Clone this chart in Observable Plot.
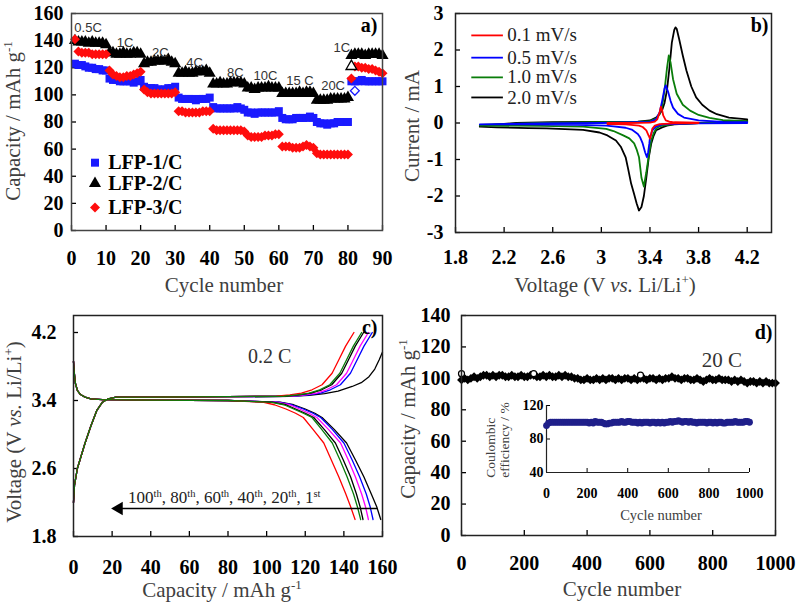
<!DOCTYPE html>
<html><head><meta charset="utf-8">
<script src="https://cdn.jsdelivr.net/npm/d3@7"></script>
<script src="https://cdn.jsdelivr.net/npm/@observablehq/plot@0.6"></script>
<style>
body{margin:0;background:#fff;}
#fig{position:relative;width:798px;height:609px;background:#fff;overflow:hidden;font-family:'Liberation Serif','Times New Roman',serif;}
.lab{position:absolute;font-size:21px;color:#404040;white-space:nowrap;line-height:1;transform:translate(-50%,-50%);}
.rot{transform:translate(-50%,-50%) rotate(-90deg);}
.lab sup{font-size:0.62em;vertical-align:0.55em;line-height:0;}
</style></head>
<body><div id="fig"></div>
<script>
// ---------- Panel a: rate capability ----------
const seriesA = ["LFP-1/C", "LFP-2/C", "LFP-3/C"];
const cyclesA = d3.range(1, 91);
const capLFP1 = [123,122,122,121,120,120,119,119,118,118, 112,111,111,110,110,110,110,109,110,111,
  106,105,105,105,104,104,104,105,105,106, 98,97,97,97,97,96,97,97,97,98,
  91,90,90,90,90,90,90,91,90,89, 87,87,86,87,87,87,87,87,87,88,
  83,82,82,82,83,83,83,83,84,83, 80,79,79,78,79,79,80,80,80,80,
  110,110,110,111,110,110,110,110,110,110];
const capLFP2 = [140,139,139,139,138,139,138,138,138,137, 131,131,130,130,131,130,130,131,131,130,
  123,124,124,125,125,125,125,126,124,123, 116,116,117,116,116,117,117,117,118,116,
  108,108,109,108,108,109,109,109,109,108, 105,105,104,105,105,105,106,105,105,105,
  101,101,101,101,101,102,101,102,102,101, 96,96,96,96,97,97,97,97,97,98,
  129,130,130,130,129,130,130,130,130,129];
const capLFP3 = [141,132,131,131,131,130,130,130,130,130, 118,115,114,113,113,114,114,115,116,117,
  104,102,101,101,101,101,101,101,101,102, 88,88,87,87,87,87,87,88,88,88,
  75,74,74,74,74,74,74,74,74,73, 70,69,69,69,69,70,70,70,71,71,
  62,62,62,61,61,61,62,63,62,61, 57,56,56,56,56,56,56,56,56,56,
  112,121,121,120,120,119,119,118,117,116];
const hollowSeries = ["LFP-2/C", "LFP-1/C"];
const hollowCycle = [81, 82];
const hollowCap = [121, 103];
const rateLabels = ["0.5C","1C","2C","4C","8C","10C","15 C","20C","1C"];
const rateLabelCycle = [4.8,15.5,25.7,35.6,47.4,56.1,66.1,75.7,78.2];
const rateLabelCap = [149.7,138.6,131.3,123.9,116.5,114.3,110.6,106.9,135];
const aXTicks = [0,10,20,30,40,50,60,70,80,90];
const aYTicks = [0,20,40,60,80,100,120,140,160];

// ---------- Panel b: cyclic voltammetry ----------
const scanRates = ["0.1 mV/s","0.5 mV/s","1.0 mV/s","2.0 mV/s"];
const cv01AnoV = [3.05,3.2,3.40,3.44,3.46,3.48,3.49,3.50,3.51,3.53,3.56,3.6,3.8];
const cv01AnoI = [0.0,0.0,0.01,0.04,0.1,0.3,0.45,0.35,0.2,0.07,0.04,0.02,0.01];
const cv01CatV = [3.8,3.6,3.48,3.44,3.42,3.41,3.40,3.39,3.37,3.34,3.31,3.2,3.05];
const cv01CatI = [0.0,-0.01,-0.03,-0.07,-0.15,-0.3,-0.43,-0.35,-0.2,-0.11,-0.07,-0.04,-0.03];
const cv05AnoV = [2.0,2.5,3.0,3.3,3.40,3.45,3.48,3.50,3.52,3.53,3.55,3.57,3.59,3.63,3.68,3.8,4.0,4.2];
const cv05AnoI = [-0.04,-0.01,0.0,0.02,0.03,0.1,0.3,0.6,0.95,1.03,0.85,0.6,0.42,0.25,0.15,0.07,0.03,0.02];
const cv05CatV = [4.2,3.8,3.5,3.45,3.42,3.40,3.395,3.385,3.375,3.36,3.34,3.32,3.30,3.25,3.2,3.1,3.04,2.8,2.4,2.0];
const cv05CatI = [0.0,-0.01,-0.04,-0.1,-0.2,-0.4,-0.56,-0.8,-0.94,-0.8,-0.56,-0.4,-0.3,-0.18,-0.13,-0.09,-0.07,-0.05,-0.04,-0.04];
const cv10AnoV = [2.0,2.5,3.0,3.3,3.40,3.45,3.48,3.50,3.52,3.54,3.555,3.57,3.59,3.62,3.67,3.73,3.80,3.89,4.0,4.2];
const cv10AnoI = [-0.05,0.0,0.02,0.03,0.05,0.12,0.25,0.45,0.9,1.5,1.85,1.65,1.2,0.8,0.5,0.34,0.22,0.14,0.08,0.05];
const cv10CatV = [4.2,3.9,3.6,3.50,3.47,3.45,3.43,3.41,3.39,3.37,3.35,3.33,3.31,3.29,3.27,3.23,3.18,3.1,3.04,2.85,2.5,2.0];
const cv10CatI = [0.03,0.01,-0.03,-0.07,-0.11,-0.16,-0.28,-0.48,-0.9,-1.35,-1.74,-1.5,-0.94,-0.72,-0.56,-0.42,-0.34,-0.22,-0.16,-0.1,-0.08,-0.07];
const cv20AnoV = [2.0,2.1,2.3,2.6,3.0,3.3,3.40,3.45,3.48,3.50,3.52,3.54,3.56,3.58,3.60,3.61,3.62,3.64,3.67,3.70,3.74,3.78,3.83,3.89,3.95,4.05,4.2];
const cv20AnoI = [-0.08,-0.05,0.0,0.02,0.03,0.04,0.07,0.15,0.25,0.35,0.55,0.9,1.5,2.2,2.55,2.62,2.58,2.3,1.85,1.44,1.0,0.70,0.50,0.34,0.24,0.15,0.10];
const cv20CatV = [4.2,4.0,3.8,3.6,3.54,3.50,3.47,3.45,3.43,3.41,3.39,3.37,3.35,3.33,3.31,3.29,3.27,3.245,3.22,3.2,3.16,3.12,3.05,2.985,2.85,2.7,2.55,2.4,2.14,2.0];
const cv20CatI = [0.05,0.03,0.0,-0.04,-0.07,-0.12,-0.17,-0.2,-0.35,-0.57,-0.95,-1.5,-2.0,-2.3,-2.4,-2.2,-1.95,-1.66,-1.25,-0.94,-0.65,-0.48,-0.34,-0.26,-0.19,-0.17,-0.15,-0.14,-0.12,-0.1];
const bXTicks = [1.8,2.2,2.6,3,3.4,3.8,4.2];
const bYTicks = [-3,-2,-1,0,1,2,3];

// ---------- Panel c: charge/discharge profiles ----------
const cycleNames = ["1st","20th","40th","60th","80th","100th"];
const chargeHeadCap = [0,0.5,2,4,6,9,12,15,18,22,40,80];
const chargeHeadV = [2.2,2.4,2.6,2.75,2.9,3.1,3.28,3.38,3.42,3.44,3.44,3.445];
const chargeTailV = [3.45,3.465,3.487,3.526,3.585,3.72,3.88,4.04,4.2];
const chargeTailCap20 = [113,122,128,133,138.2,143.4,146.9,150.4,154.7];
const chargeTailCap40 = [112,120,126,131,136.2,141.4,144.9,148.4,152.7];
const chargeTailCap60 = [110,117,123,128.5,133.7,138.9,142.4,145.9,150.2];
const chargeTailCap80 = [109,116,122,127.5,132.7,137.9,141.4,144.9,149.2];
const chargeTailCap100 = [105,112,118,123.5,128.7,133.9,137.4,140.9,145.2];
const chargeTail1V = [3.45,3.46,3.48,3.51,3.565,3.61,3.68,3.77,3.88,3.97];
const chargeTailCap1 = [112,122,130,137,144.3,149,153,156,158.3,160];
const dischargeHeadCap = [0,0.3,1,2,3.6,6,9,15,40,80];
const dischargeHeadV = [3.86,3.75,3.6,3.52,3.47,3.44,3.42,3.41,3.405,3.40];
const dischargeTailV = [3.38,3.35,3.3,3.25,3.2,3.06,2.9,2.7,2.5,2.3,2.15,2.0];
const dischargeTailCap1 = [107,114,120,125,128.7,135,141.4,146,150.4,154.2,157,159.1];
const dischargeTailCap20 = [106,113,119,124,128,134,140,144.3,148.2,151.6,153.6,155.1];
const dischargeTailCap40 = [105,112,117,122,126,132,138.3,142.3,146,149.2,151.2,152.7];
const dischargeTailCap60 = [103,110,115,120,124.4,129.8,135.6,139.7,143.5,146.5,148.4,149.9];
const dischargeTailCap80 = [102,109,114,119,123.5,128.5,134,138,141.7,145,147,148.7];
const dischargeTailCap100 = [98,104,110,115,119,124,129.6,133.5,137.4,141,143.5,145.8];
const cXTicks = [0,20,40,60,80,100,120,140,160];
const cYTicks = [1.8,2.6,3.4,4.2];

// ---------- Panel d: long cycling at 20 C ----------
const capD = [99,100,99,100,101,100,101,102,102,101, 102,101,102,102,101,101,102,101,101,102,
  101,101,102,102,101,101,102,101,102,101, 101,102,101,102,101,101,100,100,99,99,
  100,99,99,100,99,100,99,100,100,99, 100,99,100,100,99,100,99,100,100,99,
  100,100,99,100,99,100,100,101,100,100, 99,100,100,99,99,100,99,98,99,100,
  99,99,100,99,99,99,98,99,98,99, 98,97,98,98,97,98,97,98,97,97, 97];
const hollowDCycle = [0,230,570];
const hollowDCap = [103,103,102];
const ceD = [96,99,100,100,100,100,100,100,100,100, 100,100,100,100,100,100,100,100,100,100,
  100,99,100,99,101,100,100,100,99,98, 98,99,99,100,100,100,100,101,100,100,
  101,101,100,100,100,99,100,99,100,100, 100,99,100,100,99,100,99,100,99,100,
  100,101,100,101,101,102,101,100,101,101, 100,101,100,100,99,100,100,100,100,99,
  100,100,99,100,99,100,100,99,99,100, 100,100,100,101,100,100,100,100,101,101, 100];
const dXTicks = [0,200,400,600,800,1000];
const dYTicks = [0,20,40,60,80,100,120,140];
const insetYTicks = [40,80,120];

// ================== drawing ==================
const fig = document.getElementById("fig");
const serif = "'Liberation Serif','Times New Roman',serif";
const sans = "'Liberation Sans',Arial,sans-serif";
function place(el, left, top) {
  el.style.position = "absolute"; el.style.left = left + "px"; el.style.top = top + "px";
  fig.appendChild(el);
}
function label(html, cx, cy, rot, size) {
  const d = document.createElement("div");
  d.className = "lab" + (rot ? " rot" : "");
  d.innerHTML = html;
  d.style.left = cx + "px"; d.style.top = cy + "px";
  if (size) d.style.fontSize = size + "px";
  fig.appendChild(d);
}
const fmt = d => String(d);
const baseStyle = {background: "transparent", color: "black", fontFamily: serif, overflow: "visible"};
function axes(xt, yt, xPad, yPad, size = 20, tick = -5) {
  return [
    Plot.axisX(xt, {tickSize: tick, tickPadding: xPad, fontSize: size, fontWeight: "bold", label: null, tickFormat: fmt, strokeWidth: 1.3}),
    Plot.axisY(yt, {tickSize: tick, tickPadding: yPad, fontSize: size, fontWeight: "bold", label: null, tickFormat: fmt, strokeWidth: 1.3})
  ];
}

// Panel a
const colA = {"LFP-1/C": "#1a1aff", "LFP-2/C": "#000000", "LFP-3/C": "#ff0d0d"};
const symA = {"LFP-1/C": "square", "LFP-2/C": "triangle", "LFP-3/C": "diamond2"};
const capA = {"LFP-1/C": capLFP1, "LFP-2/C": capLFP2, "LFP-3/C": capLFP3};
const legendCap = [50, 34.7, 17];
const plotA = Plot.plot({
  width: 399, height: 300, marginLeft: 71, marginRight: 17, marginTop: 13, marginBottom: 70,
  x: {domain: [0, 90]}, y: {domain: [0, 160]}, style: baseStyle,
  marks: [
    ...axes(aXTicks, aYTicks, 25, 13),
    ...seriesA.map(s => Plot.dot(capA[s], {x: (d, i) => cyclesA[i], y: d => d, symbol: symA[s], fill: colA[s], r: 4.5})),
    Plot.dot(hollowCycle, {x: d => d, y: (d, i) => hollowCap[i], symbol: (d, i) => hollowSeries[i] === "LFP-2/C" ? "triangle" : "diamond2", stroke: (d, i) => colA[hollowSeries[i]], fill: "white", r: 4, strokeWidth: 1.3}),
    Plot.text(rateLabels, {x: (d, i) => rateLabelCycle[i], y: (d, i) => rateLabelCap[i], text: d => d, fontFamily: sans, fontSize: 13, fill: "#333"}),
    Plot.dot(seriesA, {x: 6.8, y: (d, i) => legendCap[i], symbol: d => symA[d], fill: d => colA[d], r: 4.5}),
    Plot.text(seriesA, {x: 10.6, y: (d, i) => legendCap[i], text: d => d, textAnchor: "start", fontSize: 20, fontWeight: "bold"}),
    Plot.text(["a)"], {frameAnchor: "top-right", textAnchor: "end", lineAnchor: "top", dx: -5, dy: 4, fontSize: 20, fontWeight: "bold"}),
    Plot.frame({stroke: "#444", strokeWidth: 1.5})
  ]
});
place(plotA, 0, 0);

// Panel b
const colB = {"0.1 mV/s": "#ff0000", "0.5 mV/s": "#0000ff", "1.0 mV/s": "#0a7d0a", "2.0 mV/s": "#000000"};
const cvSets = {
  "0.1 mV/s": [cv01AnoV, cv01AnoI, cv01CatV, cv01CatI],
  "0.5 mV/s": [cv05AnoV, cv05AnoI, cv05CatV, cv05CatI],
  "1.0 mV/s": [cv10AnoV, cv10AnoI, cv10CatV, cv10CatI],
  "2.0 mV/s": [cv20AnoV, cv20AnoI, cv20CatV, cv20CatI]
};
function cvRows(rate) {
  const [av, ai, cv, ci] = cvSets[rate];
  return av.map((v, i) => ({v, i: ai[i]})).concat(cv.map((v, i) => ({v, i: ci[i]})));
}
const legendI = [2.40, 1.79, 1.25, 0.70];
const plotB = Plot.plot({
  width: 399, height: 300, marginLeft: 56, marginRight: 27, marginTop: 13, marginBottom: 68,
  x: {domain: [1.8, 4.4]}, y: {domain: [-3, 3]}, style: baseStyle,
  marks: [
    ...axes(bXTicks, bYTicks, 22, 17),
    ...["2.0 mV/s", "1.0 mV/s", "0.5 mV/s", "0.1 mV/s"].map(r => Plot.line(cvRows(r), {x: "v", y: "i", stroke: colB[r], strokeWidth: 1.8})),
    Plot.link(scanRates, {x1: 1.93, x2: 2.19, y1: (d, i) => legendI[i], y2: (d, i) => legendI[i], stroke: d => colB[d], strokeWidth: 1.8}),
    Plot.text(scanRates, {x: 2.225, y: (d, i) => legendI[i], text: d => d, textAnchor: "start", fontSize: 19, fill: "#222"}),
    Plot.text(["b)"], {frameAnchor: "top-right", textAnchor: "end", lineAnchor: "top", dx: -3, dy: 4, fontSize: 20, fontWeight: "bold"}),
    Plot.frame({stroke: "#222", strokeWidth: 1.5})
  ]
});
place(plotB, 399, 0);

// Panel c
const colC = {"1st": "#000000", "20th": "#0000ff", "40th": "#ff00ff", "60th": "#000000", "80th": "#0a7d0a", "100th": "#ff0000"};
const chargeTails = {"1st": [chargeTailCap1, chargeTail1V], "20th": [chargeTailCap20, chargeTailV], "40th": [chargeTailCap40, chargeTailV],
  "60th": [chargeTailCap60, chargeTailV], "80th": [chargeTailCap80, chargeTailV], "100th": [chargeTailCap100, chargeTailV]};
const dischargeTails = {"1st": dischargeTailCap1, "20th": dischargeTailCap20, "40th": dischargeTailCap40,
  "60th": dischargeTailCap60, "80th": dischargeTailCap80, "100th": dischargeTailCap100};
function chargeRows(c) {
  const [tc, tv] = chargeTails[c];
  return chargeHeadCap.map((q, i) => ({q, v: chargeHeadV[i]})).concat(tc.map((q, i) => ({q, v: tv[i]})));
}
function dischargeRows(c) {
  return dischargeHeadCap.map((q, i) => ({q, v: dischargeHeadV[i]})).concat(dischargeTails[c].map((q, i) => ({q, v: dischargeTailV[i]})));
}
const drawOrderC = ["1st", "20th", "40th", "60th", "100th", "80th"];
const arrowY = 2.13, arrowFrom = 157.4, arrowTo = 23.5;
const plotC = Plot.plot({
  width: 399, height: 309, marginLeft: 73, marginRight: 17, marginTop: 15, marginBottom: 73,
  x: {domain: [0, 160]}, y: {domain: [1.8, 4.4]}, style: baseStyle,
  marks: [
    ...axes(cXTicks, cYTicks, 28, 22),
    ...drawOrderC.flatMap(c => [
      Plot.line(chargeRows(c), {x: "q", y: "v", stroke: colC[c], strokeWidth: 1.3}),
      Plot.line(dischargeRows(c), {x: "q", y: "v", stroke: colC[c], strokeWidth: 1.3})
    ]),
    Plot.link([0], {x1: arrowFrom, x2: arrowTo, y1: arrowY, y2: arrowY, stroke: "black", strokeWidth: 1.4}),
    Plot.dot([0], {x: arrowTo, y: arrowY, symbol: "triangle", rotate: -90, fill: "black", r: 5}),
    Plot.text(["0.2 C"], {x: 101.6, y: 3.92, text: d => d, fontSize: 20, fill: "#333"}),
    Plot.text(["c)"], {frameAnchor: "top-right", textAnchor: "end", lineAnchor: "top", dx: -5, dy: 4, fontSize: 20, fontWeight: "bold"}),
    Plot.frame({stroke: "#222", strokeWidth: 1.5})
  ]
});
place(plotC, 0, 300);

// Panel d
const plotD = Plot.plot({
  width: 399, height: 309, marginLeft: 62, marginRight: 23, marginTop: 15, marginBottom: 74,
  x: {domain: [0, 1000]}, y: {domain: [0, 140]}, style: baseStyle,
  marks: [
    ...axes(dXTicks, dYTicks, 25, 16),
    Plot.dot(capD, {x: (d, i) => i * 10, y: d => d, symbol: "diamond2", fill: "black", r: 4}),
    Plot.dot(hollowDCycle, {x: d => d, y: (d, i) => hollowDCap[i], stroke: "black", fill: "white", r: 3, strokeWidth: 1.2}),
    Plot.text(["20 C"], {x: 829, y: 111.4, text: d => d, fontSize: 21, fill: "#333"}),
    Plot.text(["d)"], {frameAnchor: "top-right", textAnchor: "end", lineAnchor: "top", dx: -3, dy: 9, fontSize: 20, fontWeight: "bold"}),
    Plot.frame({stroke: "#222", strokeWidth: 1.5})
  ]
});
place(plotD, 399, 300);

// Inset
const plotInset = Plot.plot({
  width: 290, height: 130, marginLeft: 76, marginRight: 11, marginTop: 10, marginBottom: 53,
  x: {domain: [0, 1000]}, y: {domain: [40, 120]}, style: baseStyle,
  marks: [
    Plot.axisX(dXTicks, {tickSize: -4, tickPadding: 20, fontSize: 14, fontWeight: "bold", label: null, tickFormat: fmt}),
    Plot.axisY(insetYTicks, {tickSize: -4, tickPadding: 7, fontSize: 14, fontWeight: "bold", label: null, tickFormat: fmt}),
    Plot.ruleX([0], {stroke: "#222", strokeWidth: 1.2}),
    Plot.ruleY([40], {stroke: "#222", strokeWidth: 1.2}),
    Plot.dot(ceD, {x: (d, i) => i * 10, y: d => d, fill: "#1f1f8a", r: 3.4})
  ]
});
place(plotInset, 470, 395);

// Axis titles (HTML for italics / superscripts)
label("Capacity / mAh g<sup>-1</sup>", 13, 121, true);
label("Cycle number", 224, 285);
label("Current / mA", 412, 126, true);
label("Voltage (V <i>vs.</i> Li/Li<sup>+</sup>)", 605, 285);
label("Voltage (V <i>vs.</i> Li/Li<sup>+</sup>)", 14, 432, true);
label("Capacity / mAh g<sup>-1</sup>", 222, 590);
label("Capacity / mAh g<sup>-1</sup>", 408, 419, true);
label("Cycle number", 622, 589);
label("Coulombic<br>efficiency / %", 497, 440, true, 13.5);
label("Cycle number", 661, 515, false, 14.5);
const ann = document.createElement("div");
ann.className = "lab";
ann.style.transform = "translate(0,-50%)";
ann.style.fontSize = "17px";
ann.style.color = "#222";
ann.innerHTML = "100<sup>th</sup>, 80<sup>th</sup>, 60<sup>th</sup>, 40<sup>th</sup>, 20<sup>th</sup>, 1<sup>st</sup>";
ann.style.left = "128px"; ann.style.top = "497px";
fig.appendChild(ann);
</script>
</body></html>
